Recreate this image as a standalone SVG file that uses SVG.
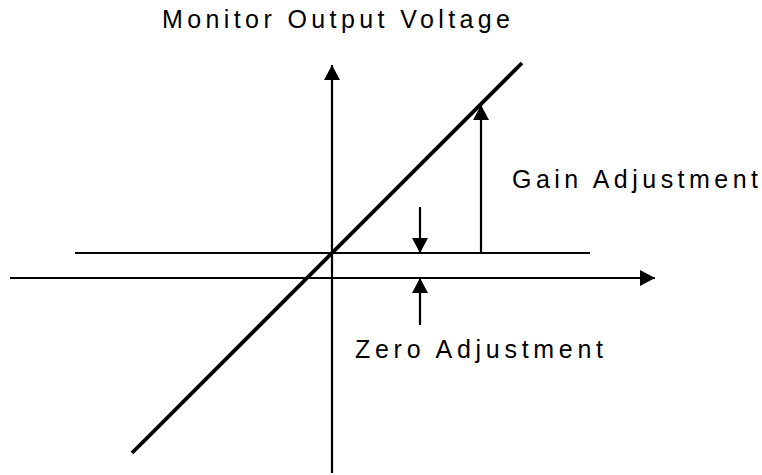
<svg xmlns="http://www.w3.org/2000/svg" width="762" height="475" viewBox="0 0 762 475">
  <style>
    .ln { stroke: #000; stroke-width: 2.2; fill: none; }
    .thick { stroke: #000; stroke-width: 3.8; fill: none; }
    .arr { marker-end: url(#ah); }
    .lbl { font-family: "Liberation Sans", Arial, sans-serif; font-size: 25px; fill: #000; }
  </style>
  <defs>
    <marker id="ah" markerUnits="userSpaceOnUse" markerWidth="16" markerHeight="16" refX="15" refY="8" orient="auto" viewBox="0 0 16 16">
      <path d="M0,0 L15,8 L0,16 z" fill="#000"/>
    </marker>
  </defs>
  <g id="connectors">
    <line id="y-axis" class="ln arr" x1="332" y1="473" x2="332" y2="65"/>
    <line id="x-axis" class="ln arr" x1="10" y1="278" x2="655" y2="278"/>
    <line id="offset-line" class="ln" x1="75" y1="253" x2="590" y2="253"/>
    <line id="response-line" class="thick" x1="132" y1="453" x2="522" y2="63"/>
    <line id="gain-arrow" class="ln arr" x1="481" y1="253" x2="481" y2="105"/>
    <line id="zero-arrow-top" class="ln arr" x1="420" y1="207" x2="420" y2="253"/>
    <line id="zero-arrow-bottom" class="ln arr" x1="420" y1="325" x2="420" y2="278"/>
  </g>
  <g id="label-monitor">
    <text class="lbl" x="162" y="28" textLength="348" lengthAdjust="spacing">Monitor Output Voltage</text>
  </g>
  <g id="label-gain">
    <text class="lbl" x="512" y="188" textLength="246" lengthAdjust="spacing">Gain Adjustment</text>
  </g>
  <g id="label-zero">
    <text class="lbl" x="355" y="358" textLength="248" lengthAdjust="spacing">Zero Adjustment</text>
  </g>
</svg>
